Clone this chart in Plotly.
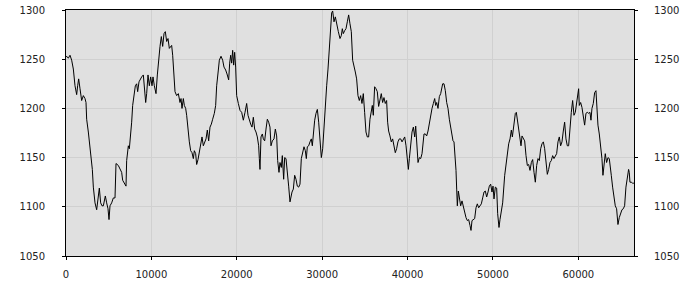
import plotly.graph_objects as go

# sample index (x) and value (y)
sample_a = [0, 78, 273, 468, 664, 859, 1054, 1249, 1366, 1484, 1640, 1835, 2030, 2225, 2342, 2420, 2616, 2811, 3006, 3084,
            3201, 3396, 3592, 3709, 3904, 4060, 4216, 4372, 4490, 4607, 4763, 4919, 5036, 5153, 5348, 5544, 5739, 5856, 6129, 6324,
            6520, 6637, 6793, 6910, 7027, 7105, 7300, 7418, 7574, 7691, 7808, 8004, 8120, 8276, 8394, 8550, 8706, 8862, 9057, 9174,
            9331, 9448, 9604, 9760, 9916, 10072, 10189, 10346, 10541, 10697, 10853, 11009, 11165, 11322, 11478, 11634, 11790, 11946, 12102]
value_a = [1252, 1253, 1251, 1254, 1249, 1240, 1223, 1214, 1223, 1230, 1220, 1208, 1213, 1210, 1206, 1189, 1176, 1162, 1145, 1138,
           1120, 1104, 1097, 1108, 1119, 1104, 1101, 1101, 1106, 1111, 1104, 1098, 1087, 1101, 1104, 1109, 1109, 1144, 1142, 1138,
           1135, 1127, 1125, 1123, 1121, 1147, 1162, 1159, 1172, 1186, 1203, 1218, 1223, 1225, 1217, 1227, 1230, 1232, 1234, 1220,
           1206, 1215, 1234, 1223, 1232, 1223, 1232, 1223, 1215, 1234, 1254, 1263, 1273, 1263, 1276, 1278, 1268, 1271, 1261]

sample_b = [12180, 12375, 12493, 12649, 12766, 12961, 13156, 13352, 13469, 13586, 13742, 13860, 14015, 14132, 14289, 14445, 14601, 14757, 14913, 15030,
            15186, 15303, 15459, 15616, 15772, 15928, 16084, 16240, 16396, 16552, 16708, 16864, 17020, 17176, 17371, 17527, 17644, 17840, 17957, 18152,
            18347, 18503, 18699, 18855, 19050, 19167, 19284, 19402, 19519, 19636, 19753, 19870, 19987, 20182, 20378, 20573, 20768, 20963, 21158, 21314,
            21470, 21626, 21783, 21939, 22095, 22251, 22407, 22563, 22641, 22719, 22836, 22993, 23110, 23266, 23422, 23578, 23734, 23890, 24007, 24164,
            24359, 24515, 24671, 24788, 24944, 25061, 25217, 25334, 25491, 25608, 25764, 25920, 26076]
value_b = [1262, 1264, 1254, 1227, 1217, 1213, 1215, 1206, 1210, 1200, 1210, 1203, 1200, 1193, 1176, 1166, 1157, 1155, 1149, 1157,
           1154, 1143, 1148, 1156, 1162, 1171, 1162, 1166, 1169, 1178, 1167, 1181, 1184, 1189, 1195, 1203, 1223, 1239, 1249, 1253,
           1249, 1242, 1239, 1235, 1229, 1246, 1254, 1246, 1259, 1244, 1257, 1242, 1213, 1205, 1198, 1196, 1188, 1196, 1205, 1193,
           1188, 1184, 1181, 1191, 1179, 1176, 1171, 1162, 1149, 1138, 1171, 1174, 1169, 1167, 1179, 1189, 1186, 1181, 1162, 1167,
           1169, 1179, 1172, 1147, 1135, 1145, 1140, 1152, 1128, 1150, 1149, 1138, 1121]

sample_c = [26232, 26350, 26467, 26623, 26779, 26935, 27091, 27247, 27403, 27559, 27715, 27872, 28028, 28145, 28262, 28418, 28574, 28730, 28847, 28968,
            29124, 29280, 29436, 29592, 29748, 29904, 30060, 30216, 30372, 30528, 30684, 30840, 30996, 31113, 31230, 31386, 31542, 31698, 31893, 32088,
            32244, 32361, 32478, 32634, 32790, 32946, 33102, 33258, 33414, 33570, 33726, 33882, 34038, 34194, 34350, 34506, 34662, 34818, 34974, 35130,
            35286, 35442, 35598, 35754, 35872, 35989, 36145, 36301, 36457, 36613, 36769, 36925, 37081, 37237, 37393, 37549, 37667, 37784, 37940, 38096,
            38252, 38408, 38564, 38720, 38876, 39032]
value_c = [1105, 1111, 1115, 1118, 1132, 1128, 1121, 1120, 1123, 1149, 1155, 1161, 1157, 1149, 1161, 1162, 1166, 1169, 1162, 1176,
           1188, 1195, 1199, 1186, 1166, 1150, 1159, 1183, 1203, 1223, 1240, 1266, 1286, 1297, 1299, 1288, 1293, 1285, 1278, 1271,
           1274, 1281, 1276, 1279, 1281, 1288, 1295, 1286, 1278, 1249, 1244, 1237, 1230, 1213, 1208, 1213, 1205, 1215, 1196, 1176,
           1171, 1171, 1189, 1198, 1203, 1193, 1222, 1220, 1217, 1202, 1210, 1215, 1206, 1211, 1205, 1208, 1186, 1177, 1172, 1166,
           1169, 1162, 1155, 1159, 1166, 1169]

sample_d = [39197, 39353, 39509, 39665, 39821, 39977, 40094, 40211, 40368, 40524, 40680, 40836, 40953, 41070, 41226, 41382, 41538, 41694, 41811, 41928,
            42084, 42240, 42397, 42553, 42709, 42865, 43021, 43177, 43294, 43411, 43567, 43724, 43880, 43997, 44114, 44270, 44426, 44582, 44738, 44894,
            45050, 45206, 45323, 45440, 45558, 45675, 45753, 45831, 45948, 46065, 46221, 46377, 46533, 46689, 46846, 47002, 47158, 47314, 47431, 47548,
            47704, 47860, 48016, 48172, 48328, 48485, 48641, 48797, 48953, 49109, 49265, 49421, 49577, 49733, 49889, 50007, 50124, 50280, 50436, 50553,
            50709, 50826, 50983, 51139]
value_d = [1169, 1166, 1169, 1171, 1162, 1149, 1138, 1149, 1162, 1176, 1181, 1171, 1182, 1159, 1145, 1150, 1149, 1154, 1169, 1174,
           1174, 1172, 1177, 1186, 1193, 1200, 1205, 1210, 1203, 1206, 1200, 1212, 1215, 1222, 1225, 1225, 1218, 1206, 1200, 1189,
           1181, 1176, 1167, 1166, 1155, 1137, 1118, 1101, 1116, 1110, 1101, 1106, 1099, 1096, 1089, 1086, 1087, 1081, 1076, 1086,
           1087, 1088, 1099, 1103, 1099, 1101, 1103, 1109, 1115, 1116, 1110, 1115, 1121, 1123, 1115, 1121, 1108, 1120, 1119, 1093,
           1079, 1087, 1097, 1104]

sample_e = [51376, 51532, 51688, 51844, 52000, 52156, 52273, 52390, 52507, 52624, 52741, 52858, 53014, 53170, 53287, 53404, 53560, 53716, 53872, 54028,
            54185, 54341, 54497, 54653, 54809, 54965, 55121, 55277, 55433, 55589, 55745, 55901, 56057, 56213, 56369, 56525, 56681, 56837, 56993, 57149,
            57305, 57461, 57617, 57773, 57929, 58085, 58241, 58397, 58553, 58710, 58866, 59022, 59178, 59334, 59490, 59646, 59802, 59958, 60036, 60114,
            60270, 60426, 60582, 60738, 60894, 61050, 61206, 61362, 61479, 61596, 61752, 61909, 62065, 62182, 62299, 62455, 62611, 62767, 62884, 63040,
            63157, 63314, 63470, 63626, 63743, 63860, 64016, 64172, 64328, 64484, 64640, 64796, 64952, 65108, 65264, 65420, 65576, 65732, 65888, 65966,
            66044, 66200, 66356, 66512]
value_e = [1132, 1145, 1155, 1164, 1169, 1178, 1171, 1179, 1189, 1195, 1196, 1189, 1183, 1172, 1162, 1172, 1169, 1167, 1152, 1142,
           1143, 1137, 1145, 1148, 1135, 1125, 1142, 1149, 1147, 1159, 1164, 1166, 1159, 1145, 1133, 1138, 1145, 1147, 1152, 1149,
           1152, 1154, 1166, 1171, 1162, 1166, 1177, 1186, 1169, 1162, 1162, 1181, 1196, 1208, 1193, 1196, 1205, 1213, 1220, 1203,
           1206, 1201, 1193, 1183, 1195, 1196, 1195, 1196, 1188, 1200, 1205, 1216, 1218, 1196, 1183, 1174, 1162, 1149, 1132, 1150,
           1154, 1145, 1150, 1149, 1142, 1132, 1120, 1108, 1101, 1098, 1082, 1089, 1094, 1097, 1098, 1101, 1120, 1128, 1138, 1135,
           1125, 1125, 1124, 1124]

x_ticks = [0, 10000, 20000, 30000, 40000, 50000, 60000]
y_ticks = [1050, 1100, 1150, 1200, 1250, 1300]
x_range = [0, 66520]
y_range = [1050, 1300]

samples = sample_a + sample_b + sample_c + sample_d + sample_e
values = value_a + value_b + value_c + value_d + value_e

FONT = dict(family="DejaVu Sans", size=10, color="#222222")

fig = go.Figure()
fig.add_trace(go.Scatter(x=samples, y=values, mode="lines",
                         line=dict(color="#000000", width=1), hoverinfo="skip"))
fig.add_trace(go.Scatter(x=samples, y=values, mode="lines", yaxis="y2",
                         line=dict(color="rgba(0,0,0,0)", width=1), hoverinfo="skip"))

fig.update_layout(
    template="none",
    width=700, height=300,
    margin=dict(l=66, r=66, t=10, b=44, pad=0, autoexpand=False),
    paper_bgcolor="#ffffff",
    plot_bgcolor="#e0e0e0",
    showlegend=False,
    font=FONT,
    xaxis=dict(range=x_range, tickvals=x_ticks, tickformat="d", automargin=False,
               showgrid=True, gridcolor="#d0d0d0", gridwidth=1,
               zeroline=False, showline=True, linecolor="#000000", linewidth=1,
               mirror=True, ticks="outside", ticklen=3, tickcolor="#000000",
               ticklabelstandoff=6, tickfont=FONT),
    yaxis=dict(range=y_range, tickvals=y_ticks, automargin=False,
               showgrid=True, gridcolor="#d0d0d0", gridwidth=1,
               zeroline=False, showline=True, linecolor="#000000", linewidth=1,
               mirror=True, ticks="outside", ticklen=3, tickcolor="#000000",
               ticklabelstandoff=15, tickfont=FONT),
    yaxis2=dict(range=y_range, tickvals=y_ticks, overlaying="y", side="right",
                automargin=False, showgrid=False, zeroline=False, showline=False,
                ticks="outside", ticklen=3, tickcolor="#000000",
                ticklabelstandoff=14, tickfont=FONT),
)

fig.write_html("out.html")
